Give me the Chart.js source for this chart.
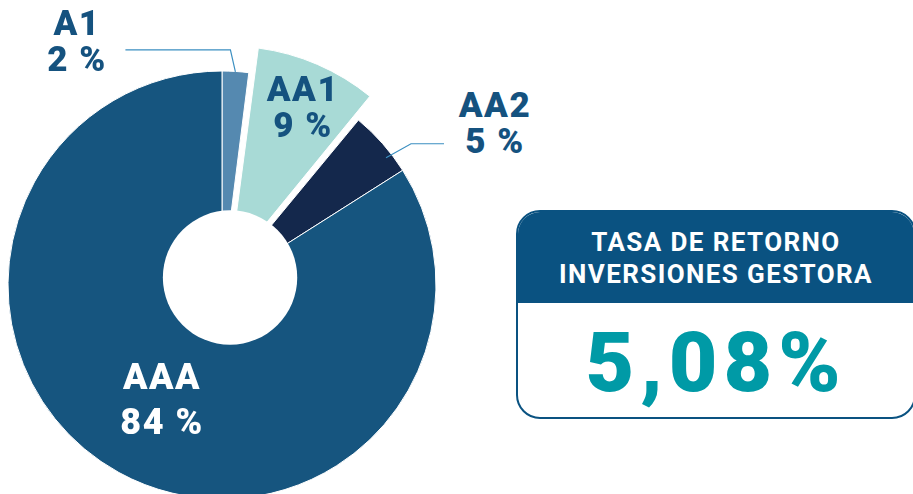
<!DOCTYPE html>
<html><head><meta charset="utf-8">
<script src="https://cdn.jsdelivr.net/npm/chart.js@4/dist/chart.umd.min.js"></script>
<style>
html,body{margin:0;padding:0;width:913px;height:494px;overflow:hidden;background:#fff;font-family:Roboto,"DejaVu Sans",sans-serif;}
#wrap{position:absolute;left:0;top:0;width:444px;height:570px;}
.lbl{position:absolute;font-weight:900;text-align:center;line-height:1;white-space:nowrap;letter-spacing:1.5px;}
.lbl div{height:36px;}
#box{position:absolute;left:516px;top:210px;width:400px;height:209px;border:2.5px solid #0a5281;border-radius:24px;box-sizing:border-box;overflow:hidden;}
#hdr{background:#0a5281;height:91px;color:#fff;font-weight:700;font-size:26px;text-align:center;padding-top:14px;box-sizing:border-box;line-height:32px;letter-spacing:1.4px;}
#val{color:#009aa6;font-weight:900;font-size:84px;text-align:center;line-height:1;margin-top:18px;letter-spacing:6px;}
</style></head>
<body>
<div id="wrap"><canvas id="c"></canvas></div>
<div class="lbl" id="lA1" style="left:27px;top:6px;width:100px;color:#15527f;font-size:35px;"><div>A1</div><div>2 %</div></div>
<div class="lbl" id="lAA1" style="left:253px;top:72px;width:100px;color:#15527f;font-size:35px;"><div>AA1</div><div>9 %</div></div>
<div class="lbl" id="lAA2" style="left:445px;top:88px;width:100px;color:#15527f;font-size:35px;"><div>AA2</div><div>5 %</div></div>
<div class="lbl" id="lAAA" style="left:102px;top:359px;width:120px;color:#ffffff;font-size:36px;"><div style="height:45px">AAA</div><div>84 %</div></div>
<div id="box"><div id="hdr">TASA DE RETORNO<br>INVERSIONES GESTORA</div><div id="val">5,08%</div></div>
<script>
const categories = ['A1', 'AA1', 'AA2', 'AAA'];
const shares = [2, 9, 5, 84];
const sliceColors = ['#5589b0', '#a8dad6', '#14284c', '#16557f'];
const sliceOffsets = [0, 72, 0, 0];

const holeAndLeaders = {
  id: 'holeAndLeaders',
  afterDatasetsDraw(chart) {
    const ctx = chart.ctx;
    const arcs = chart.getDatasetMeta(0).data;
    const a0 = arcs[0];
    const R = a0.outerRadius, cx = a0.x, cy = a0.y;
    ctx.save();
    ctx.fillStyle = '#ffffff';
    ctx.beginPath();
    ctx.arc(cx + 0.0376 * R, cy - 0.035 * R, 0.314 * R, 0, Math.PI * 2);
    ctx.fill();
    ctx.strokeStyle = '#3b8fc1';
    ctx.lineWidth = 1.2;
    const mid0 = (a0.startAngle + a0.endAngle) / 2;
    let p = [a0.x + Math.cos(mid0) * R * 0.998, a0.y + Math.sin(mid0) * R * 0.998];
    ctx.beginPath();
    ctx.moveTo(p[0], p[1]);
    ctx.lineTo(p[0] - 5, p[1] - 22);
    ctx.lineTo(p[0] - 110, p[1] - 22);
    ctx.stroke();
    const a2 = arcs[2];
    const m2 = a2.startAngle + (a2.endAngle - a2.startAngle) * 0.7;
    p = [a2.x + Math.cos(m2) * a2.outerRadius * 0.97, a2.y + Math.sin(m2) * a2.outerRadius * 0.97];
    ctx.beginPath();
    ctx.moveTo(p[0], p[1]);
    ctx.lineTo(p[0] + 25, p[1] - 14);
    ctx.lineTo(p[0] + 60, p[1] - 14);
    ctx.stroke();
    ctx.restore();
  }
};

new Chart(document.getElementById('c'), {
  type: 'pie',
  data: {
    labels: categories,
    datasets: [{
      data: shares,
      backgroundColor: sliceColors,
      offset: sliceOffsets,
      borderColor: '#ffffff',
      borderWidth: 1,
      radius: 214
    }]
  },
  options: {
    responsive: true,
    maintainAspectRatio: false,
    animation: false,
    layout: { padding: 0 },
    plugins: { legend: { display: false }, tooltip: { enabled: false } }
  },
  plugins: [holeAndLeaders]
});
</script>
</body></html>
